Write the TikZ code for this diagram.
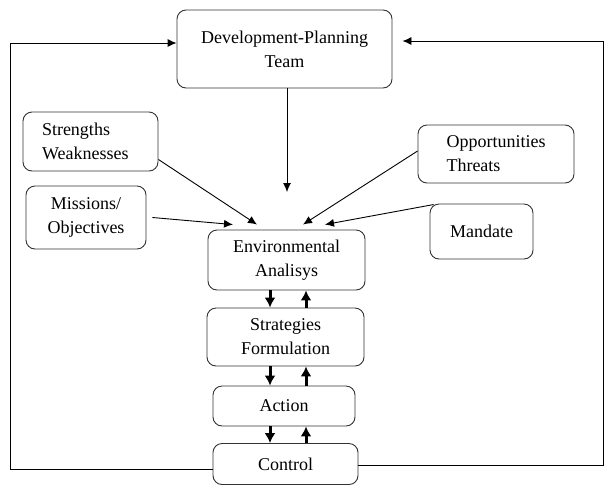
\documentclass[tikz,border=0pt]{standalone}
\usepackage{fontspec}
\setmainfont{Liberation Serif}
\usetikzlibrary{arrows.meta}
\tikzset{
  box/.style={draw=black!80, line width=0.9pt, rounded corners=9pt, inner sep=0pt,
    font=\fontsize{18}{24}\selectfont},
  feed/.style={line width=0.9pt, -{Latex[length=9pt,width=8pt]}},
  flow/.style={line width=3pt, -{Latex[length=10pt,width=11pt]}}
}
\begin{document}
\begin{tikzpicture}[x=1pt,y=-1pt]
  \useasboundingbox (0,0) rectangle (604,485);
  \node[box, align=center, minimum width=215, minimum height=78] (team) at (284.5,49) {Development-Planning\\Team};
  \node[box, align=left, text width=97pt, inner xsep=19pt, minimum height=59] (sw) at (90.5,141.5) {Strengths\\Weaknesses};
  \node[box, align=left, minimum width=156, minimum height=58] (ot) at (496,154) {Opportunities\\Threats};
  \node[box, align=center, minimum width=120, minimum height=63] (mo) at (86,217.5) {Missions/\\Objectives};
  \node[box, align=center, minimum width=103, minimum height=55] (man) at (481.5,231.5) {Mandate};
  \node[box, align=center, minimum width=157, minimum height=60] (env) at (286.5,260) {Environmental\\Analisys};
  \node[box, align=center, minimum width=157, minimum height=58] (strat) at (285.5,337) {Strategies\\Formulation};
  \node[box, align=center, minimum width=142, minimum height=40] (act) at (284,406) {Action};
  \node[box, align=center, minimum width=145, minimum height=41] (ctl) at (285.5,464) {Control};
  \coordinate (drop) at (287,192);
  \coordinate (tl) at (10,43);
  \coordinate (tr) at (603,41);
  \begin{scope}[feed]
    \draw ([xshift=2.5pt]team.south) -- (drop);
    \draw ([yshift=-18pt]sw.east) -- ([xshift=-29.5pt,yshift=5pt]env.north);
    \draw ([xshift=6pt]mo.east) -- ([xshift=-53.5pt,yshift=5pt]env.north);
    \draw ([yshift=3pt]ot.west) -- ([xshift=16.5pt,yshift=5pt]env.north);
    \draw ([xshift=4pt,yshift=-1pt]man.north west) -- ([xshift=38.5pt,yshift=5pt]env.north);
    \draw ([yshift=-5pt]ctl.west) -| (tl) -- (tl -| team.west);
    \draw ([yshift=-1pt]ctl.east) -| (tr) -- ([xshift=10pt]tr -| team.east);
  \end{scope}
  \begin{scope}[flow]
    \draw ([xshift=-16.5pt]env.south) -- ([xshift=-16.5pt]env.south |- strat.north);
    \draw ([xshift=19.5pt]env.south |- strat.north) -- ([xshift=19.5pt]env.south);
    \draw ([xshift=-16.5pt]env.south |- strat.south) -- ([xshift=-16.5pt]env.south |- act.north);
    \draw ([xshift=19.5pt]env.south |- act.north) -- ([xshift=19.5pt]env.south |- strat.south);
    \draw ([xshift=-16.5pt]env.south |- act.south) -- ([xshift=-16.5pt]env.south |- ctl.north);
    \draw ([xshift=19.5pt]env.south |- ctl.north) -- ([xshift=19.5pt]env.south |- act.south);
  \end{scope}
\end{tikzpicture}
\end{document}
